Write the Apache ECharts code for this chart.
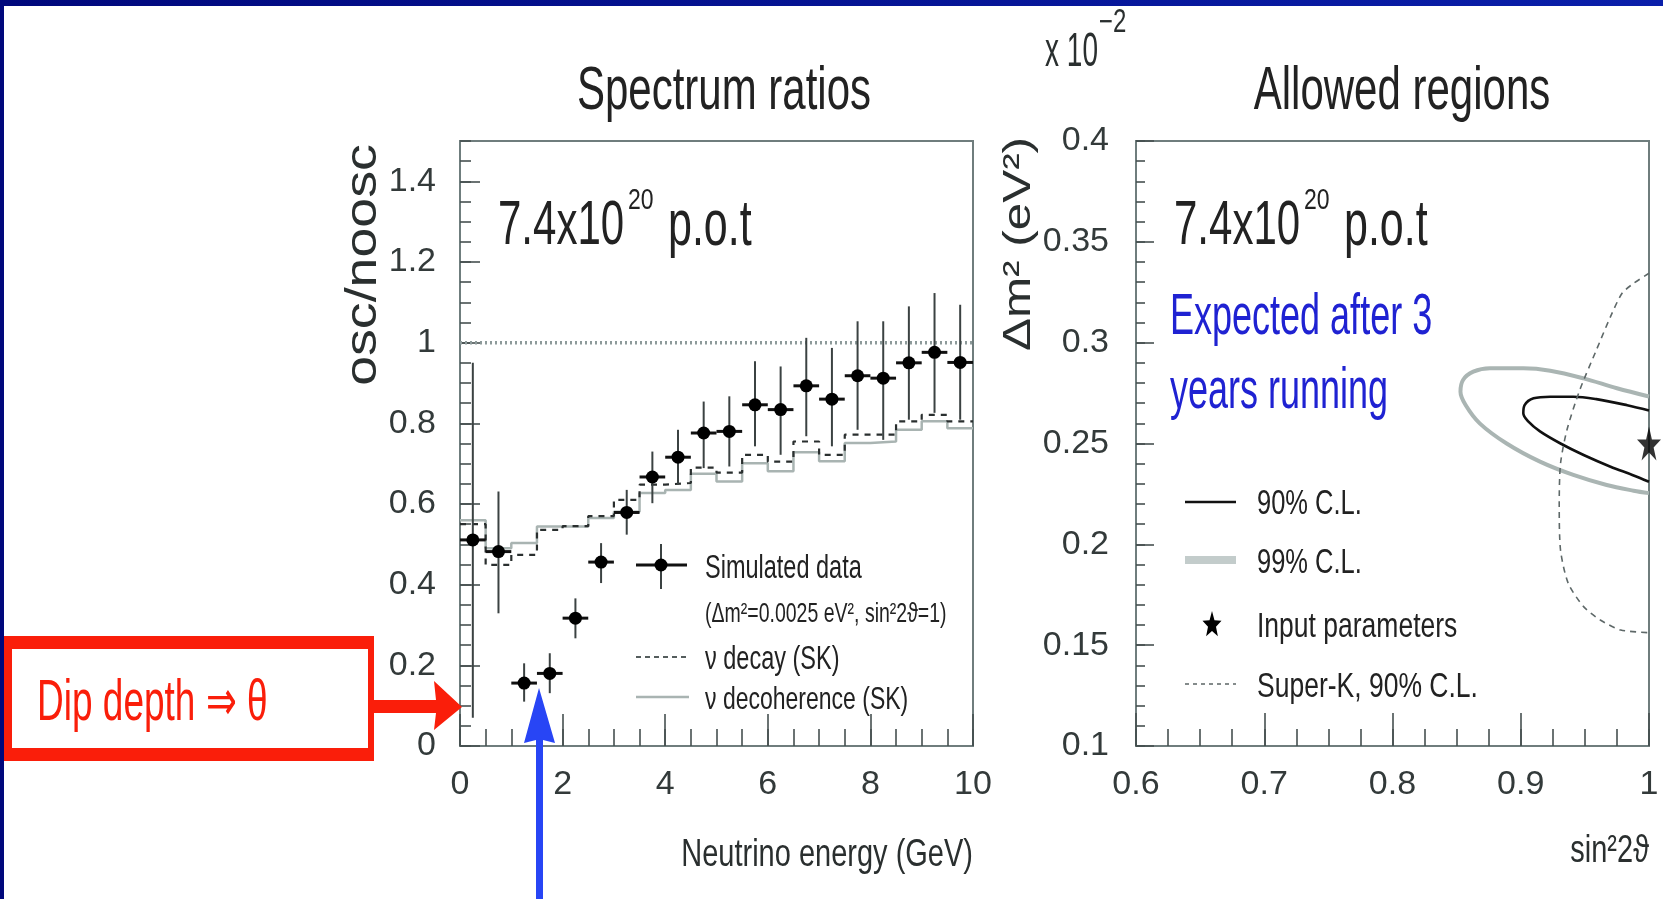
<!DOCTYPE html>
<html><head><meta charset="utf-8">
<script src="https://cdn.jsdelivr.net/npm/echarts@6/dist/echarts.min.js"></script>
<style>html,body{margin:0;padding:0;background:#fff;}#chart{width:1663px;height:899px;}</style>
</head><body><div id="chart"></div>
<script>
// ---------- Left panel: spectrum ratios ----------
const binEdges = [0,0.5,1,1.5,2,2.5,3,3.5,4,4.5,5,5.5,6,6.5,7,7.5,8,8.5,9,9.5,10];
const energyCenters = [0.25,0.75,1.25,1.75,2.25,2.75,3.25,3.75,4.25,4.75,5.25,5.75,6.25,6.75,7.25,7.75,8.25,8.75,9.25,9.75];
const simRatio = [0.511,0.482,0.156,0.180,0.317,0.456,0.579,0.667,0.716,0.776,0.780,0.846,0.834,0.893,0.860,0.918,0.912,0.950,0.976,0.951];
const simLower = [0.07,0.329,0.110,0.131,0.267,0.404,0.524,0.602,0.648,0.689,0.693,0.743,0.722,0.768,0.743,0.784,0.759,0.809,0.826,0.809];
const simUpper = [0.95,0.631,0.205,0.230,0.366,0.503,0.635,0.730,0.784,0.854,0.867,0.954,0.941,1.012,0.987,1.053,1.053,1.090,1.123,1.094];
const decayRatio = [0.55,0.449,0.474,0.536,0.545,0.570,0.610,0.648,0.652,0.690,0.678,0.722,0.705,0.755,0.722,0.772,0.772,0.805,0.821,0.805];
const decoherenceRatio = [0.56,0.49,0.503,0.544,0.544,0.565,0.581,0.627,0.635,0.675,0.656,0.701,0.681,0.728,0.706,0.751,0.755,0.784,0.805,0.788];
const unityEnergy = [0, 10];
const unityRatio = [1, 1];

// ---------- Right panel: allowed regions (Δm² in 10^-2 eV²) ----------
const cl90Sin2 = [1.0,0.983,0.959,0.941,0.923,0.910,0.903,0.902,0.906,0.915,0.931,0.949,0.970,0.987,1.0];
const cl90Dm2  = [0.2664,0.269,0.272,0.2732,0.2732,0.2724,0.269,0.265,0.2608,0.256,0.250,0.2443,0.2385,0.2344,0.231];
const cl99Sin2 = [1.0,0.975,0.949,0.923,0.902,0.876,0.863,0.855,0.853,0.857,0.868,0.889,0.915,0.941,0.967,0.988,1.0];
const cl99Dm2  = [0.2733,0.2774,0.2823,0.2861,0.2873,0.2873,0.2856,0.2815,0.2757,0.2691,0.260,0.250,0.241,0.2344,0.2294,0.2266,0.2254];
const superKSin2 = [1.0,0.988,0.979,0.970,0.959,0.946,0.936,0.931,0.930,0.931,0.937,0.949,0.962,0.978,1.0];
const superKDm2  = [0.3344,0.3294,0.3245,0.3129,0.2964,0.2765,0.2567,0.240,0.2203,0.1972,0.1807,0.1691,0.1625,0.1575,0.1562];
const inputSin2 = [1.0];
const inputDm2 = [0.25];

const FONT = "'Liberation Sans',Arial,sans-serif";
const FRAME = '#6f7d7d';
const TICK = '#465050';
const LABEL = '#333a3a';

const zip = (a, b) => a.map((v, i) => [v, b[i]]);
function stepData(values) {
  const d = values.map((v, i) => [binEdges[i], v]);
  d.push([binEdges[values.length], values[values.length - 1]]);
  return d;
}
const simData = energyCenters.map((e, i) => [e, simRatio[i], simLower[i], simUpper[i], binEdges[i], binEdges[i + 1]]);

// text helper: (x, y) = anchor; sy/sx stretch the glyphs like the reference
function txt(x, y, text, size, opt) {
  opt = opt || {};
  const align = opt.align || 'left';
  return {
    type: 'text', x: x, y: y, z: opt.z || 60, rotation: opt.rotation || 0,
    scaleX: opt.sx || 1, scaleY: opt.sy || 1,
    style: {
      text: text, fill: opt.color || '#222',
      font: size + 'px ' + (opt.family || FONT),
      textAlign: align, align: align, textVerticalAlign: 'middle', verticalAlign: 'middle'
    }
  };
}
function line(x1, y1, x2, y2, stroke, w, dash) {
  const s = { stroke: stroke, lineWidth: w };
  if (dash) s.lineDash = dash;
  return { type: 'line', z: 60, shape: { x1: x1, y1: y1, x2: x2, y2: y2 }, style: s };
}
function starPts(cx, cy, rx, ry) {
  const p = [];
  for (let k = 0; k < 10; k++) {
    const a = -Math.PI / 2 + k * Math.PI / 5;
    const r = k % 2 === 0 ? 1 : 0.42;
    p.push([cx + rx * r * Math.cos(a), cy + ry * r * Math.sin(a)]);
  }
  return p;
}
const STAR = 'path://M50,0 L61.8,35.1 L98.9,35.1 L68.8,56.7 L80.2,91.9 L50,70.2 L19.8,91.9 L31.2,56.7 L1.1,35.1 L38.2,35.1 Z';

function mkAxis(gridIndex, pos, min, max, interval, tickLen, showLabel, showLine, labelMargin, hideMax) {
  return {
    type: 'value', gridIndex: gridIndex, position: pos, min: min, max: max, interval: interval,
    axisLine: { show: showLine, lineStyle: { color: FRAME, width: 2 } },
    axisTick: { show: true, inside: true, length: tickLen, lineStyle: { color: TICK, width: 1.6 } },
    axisLabel: { show: showLabel, showMaxLabel: !hideMax,
      color: LABEL, fontFamily: FONT, fontSize: 34, margin: labelMargin || 20 },
    splitLine: { show: false }
  };
}

const chart = echarts.init(document.getElementById('chart'), null, { renderer: 'canvas' });
const option = {
  animation: false,
  backgroundColor: '#ffffff',
  grid: [
    { left: 460, top: 141, width: 513, height: 605, show: true, borderColor: FRAME, borderWidth: 2, backgroundColor: 'transparent', outerBoundsMode: 'none' },
    { left: 1136, top: 141, width: 513, height: 605, show: true, borderColor: FRAME, borderWidth: 2, backgroundColor: 'transparent', outerBoundsMode: 'none' }
  ],
  xAxis: [
    mkAxis(0, 'bottom', 0, 10, 2, 32, true, true, 22),
    mkAxis(0, 'bottom', 0, 10, 0.5, 17, false, false),
    mkAxis(1, 'bottom', 0.6, 1, 0.1, 33, true, true, 22),
    mkAxis(1, 'bottom', 0.6, 1, 0.025, 17, false, false)
  ],
  yAxis: [
    mkAxis(0, 'left', 0, 1.5, 0.2, 20, true, true, 24, true),
    mkAxis(0, 'left', 0, 1.5, 0.05, 11, false, false),
    mkAxis(1, 'left', 0.1, 0.4, 0.05, 18, true, true, 27),
    mkAxis(1, 'left', 0.1, 0.4, 0.01, 9, false, false)
  ],
  series: [
    { name: 'no oscillation', type: 'line', xAxisIndex: 0, yAxisIndex: 0, data: zip(unityEnergy, unityRatio),
      symbol: 'none', lineStyle: { color: '#8d9a9a', width: 3.5, type: [2, 3] }, z: 1 },
    { name: 'ν decoherence (SK)', type: 'line', xAxisIndex: 0, yAxisIndex: 0, data: stepData(decoherenceRatio),
      step: 'end', symbol: 'none', lineStyle: { color: '#a9b4b2', width: 2.5 }, z: 2 },
    { name: 'ν decay (SK)', type: 'line', xAxisIndex: 0, yAxisIndex: 0, data: stepData(decayRatio),
      step: 'end', symbol: 'none', lineStyle: { color: '#2a2f2f', width: 2.2, type: [6, 6] }, z: 3 },
    { name: 'Simulated data', type: 'custom', xAxisIndex: 0, yAxisIndex: 0, data: simData, z: 5,
      encode: { x: 0, y: 1 },
      renderItem: function (params, api) {
        const c = api.coord([api.value(0), api.value(1)]);
        const lo = api.coord([api.value(0), api.value(2)]);
        const hi = api.coord([api.value(0), api.value(3)]);
        const l = api.coord([api.value(4), api.value(1)]);
        const r = api.coord([api.value(5), api.value(1)]);
        return { type: 'group', children: [
          { type: 'line', shape: { x1: c[0], y1: lo[1], x2: c[0], y2: hi[1] }, style: { stroke: '#3b4242', lineWidth: 2 } },
          { type: 'line', shape: { x1: l[0], y1: c[1], x2: r[0], y2: c[1] }, style: { stroke: '#111', lineWidth: 3 } },
          { type: 'circle', shape: { cx: c[0], cy: c[1], r: 6.5 }, style: { fill: '#000' } }
        ] };
      }
    },
    { name: '99% C.L.', type: 'line', xAxisIndex: 2, yAxisIndex: 2, data: zip(cl99Sin2, cl99Dm2),
      smooth: 0.35, symbol: 'none', lineStyle: { color: '#aab5b3', width: 4 }, z: 2 },
    { name: '90% C.L.', type: 'line', xAxisIndex: 2, yAxisIndex: 2, data: zip(cl90Sin2, cl90Dm2),
      smooth: 0.35, symbol: 'none', lineStyle: { color: '#111', width: 2.6 }, z: 3 },
    { name: 'Super-K, 90% C.L.', type: 'line', xAxisIndex: 2, yAxisIndex: 2, data: zip(superKSin2, superKDm2),
      smooth: 0.25, symbol: 'none', lineStyle: { color: '#5e6868', width: 1.6, type: [6, 5] }, z: 3 },
    { name: 'Input parameters', type: 'scatter', xAxisIndex: 2, yAxisIndex: 2, data: zip(inputSin2, inputDm2),
      symbol: STAR, symbolSize: [24, 34], itemStyle: { color: '#000' }, clip: false, z: 6 }
  ],
  graphic: [
    // slide frame
    { type: 'rect', z: 100, shape: { x: 0, y: 0, width: 1663, height: 6 },
      style: { fill: new echarts.graphic.LinearGradient(0, 0, 1, 0, [{ offset: 0, color: '#00087c' }, { offset: 1, color: '#0a1faa' }]) } },
    { type: 'rect', z: 100, shape: { x: 0, y: 0, width: 4, height: 899 }, style: { fill: '#00087c' } },
    // titles
    txt(724, 92, 'Spectrum ratios', 42, { align: 'center', sy: 1.45 }),
    txt(1402, 92, 'Allowed regions', 42, { align: 'center', sy: 1.45 }),
    // p.o.t labels
    txt(498, 227, '7.4x10', 42, { sy: 1.5 }), txt(628, 201, '20', 23, { sy: 1.3 }), txt(668, 227, 'p.o.t', 43, { sy: 1.5 }),
    txt(1174, 227, '7.4x10', 42, { sy: 1.5 }), txt(1304, 201, '20', 23, { sy: 1.3 }), txt(1344, 227, 'p.o.t', 43, { sy: 1.5 }),
    // axis titles
    txt(364, 265, 'osc/noosc', 44, { align: 'center', rotation: Math.PI / 2, sx: 1.22, color: '#2a2f2f' }),
    txt(1020, 244, 'Δm² (eV²)', 38, { align: 'center', rotation: Math.PI / 2, sx: 1.3, color: '#2a2f2f' }),
    txt(973, 855, 'Neutrino energy (GeV)', 29, { align: 'right', sy: 1.35, color: '#2a2f2f' }),
    txt(1649, 851, 'sin²2ϑ', 29, { align: 'right', sy: 1.35, color: '#2a2f2f' }),
    txt(1098, 53, 'x 10', 28, { align: 'right', sy: 1.7, color: '#2a2f2f' }),
    txt(1099, 23, '−2', 24, { sy: 1.35, color: '#2a2f2f' }),
    // left legend
    line(636, 565, 687, 565, '#111', 3), line(661, 544, 661, 589, '#3b4242', 2),
    { type: 'circle', z: 61, shape: { cx: 661, cy: 565, r: 6.5 }, style: { fill: '#000' } },
    txt(705, 569, 'Simulated data', 23.5, { sy: 1.4 }),
    txt(705, 614, '(Δm²=0.0025 eV², sin²2ϑ=1)', 19.5, { sy: 1.4 }),
    line(636, 657, 689, 657, '#555d5d', 2, [5, 4]), txt(705, 660, 'ν decay (SK)', 23.5, { sy: 1.4 }),
    line(636, 697, 689, 697, '#a9b4b2', 2.5), txt(705, 700, 'ν decoherence (SK)', 23, { sy: 1.4 }),
    // right legend
    line(1185, 502, 1236, 502, '#111', 2.6), txt(1257, 505, '90% C.L.', 25.5, { sy: 1.35 }),
    line(1185, 560, 1236, 560, '#c3cccb', 8), txt(1257, 564, '99% C.L.', 25.5, { sy: 1.35 }),
    { type: 'polygon', z: 61, shape: { points: starPts(1212, 625, 10, 14) }, style: { fill: '#000' } },
    txt(1257, 627, 'Input parameters', 26.5, { sy: 1.35 }),
    line(1185, 684, 1236, 684, '#666f6f', 1.6, [4, 4]), txt(1257, 687, 'Super-K, 90% C.L.', 26.5, { sy: 1.35 }),
    // blue annotation
    txt(1170, 318, 'Expected after 3', 36, { color: '#1f22d2', sy: 1.6 }),
    txt(1170, 392, 'years running', 36, { color: '#1f22d2', sy: 1.6 }),
    // red box + arrow
    { type: 'rect', z: 90, shape: { x: 4, y: 636, width: 370, height: 125 }, style: { fill: '#fa1e0a' } },
    { type: 'rect', z: 91, shape: { x: 12, y: 649, width: 356, height: 99 }, style: { fill: '#ffffff' } },
    txt(37, 704, 'Dip depth ⇒ θ', 37, { color: '#fa1e0a', sy: 1.55, z: 92 }),
    { type: 'polygon', z: 90, shape: { points: [[372, 700], [436, 700], [434, 681], [462, 707], [434, 730], [436, 713], [372, 713]] }, style: { fill: '#fa1e0a' } },
    // blue arrow
    { type: 'polygon', z: 90, shape: { points: [[536, 899], [536, 740], [524, 743], [539, 688], [555, 743], [543, 740], [543, 899]] }, style: { fill: '#2845f5' } }
  ]
};
chart.setOption(option);
</script>
</body></html>
